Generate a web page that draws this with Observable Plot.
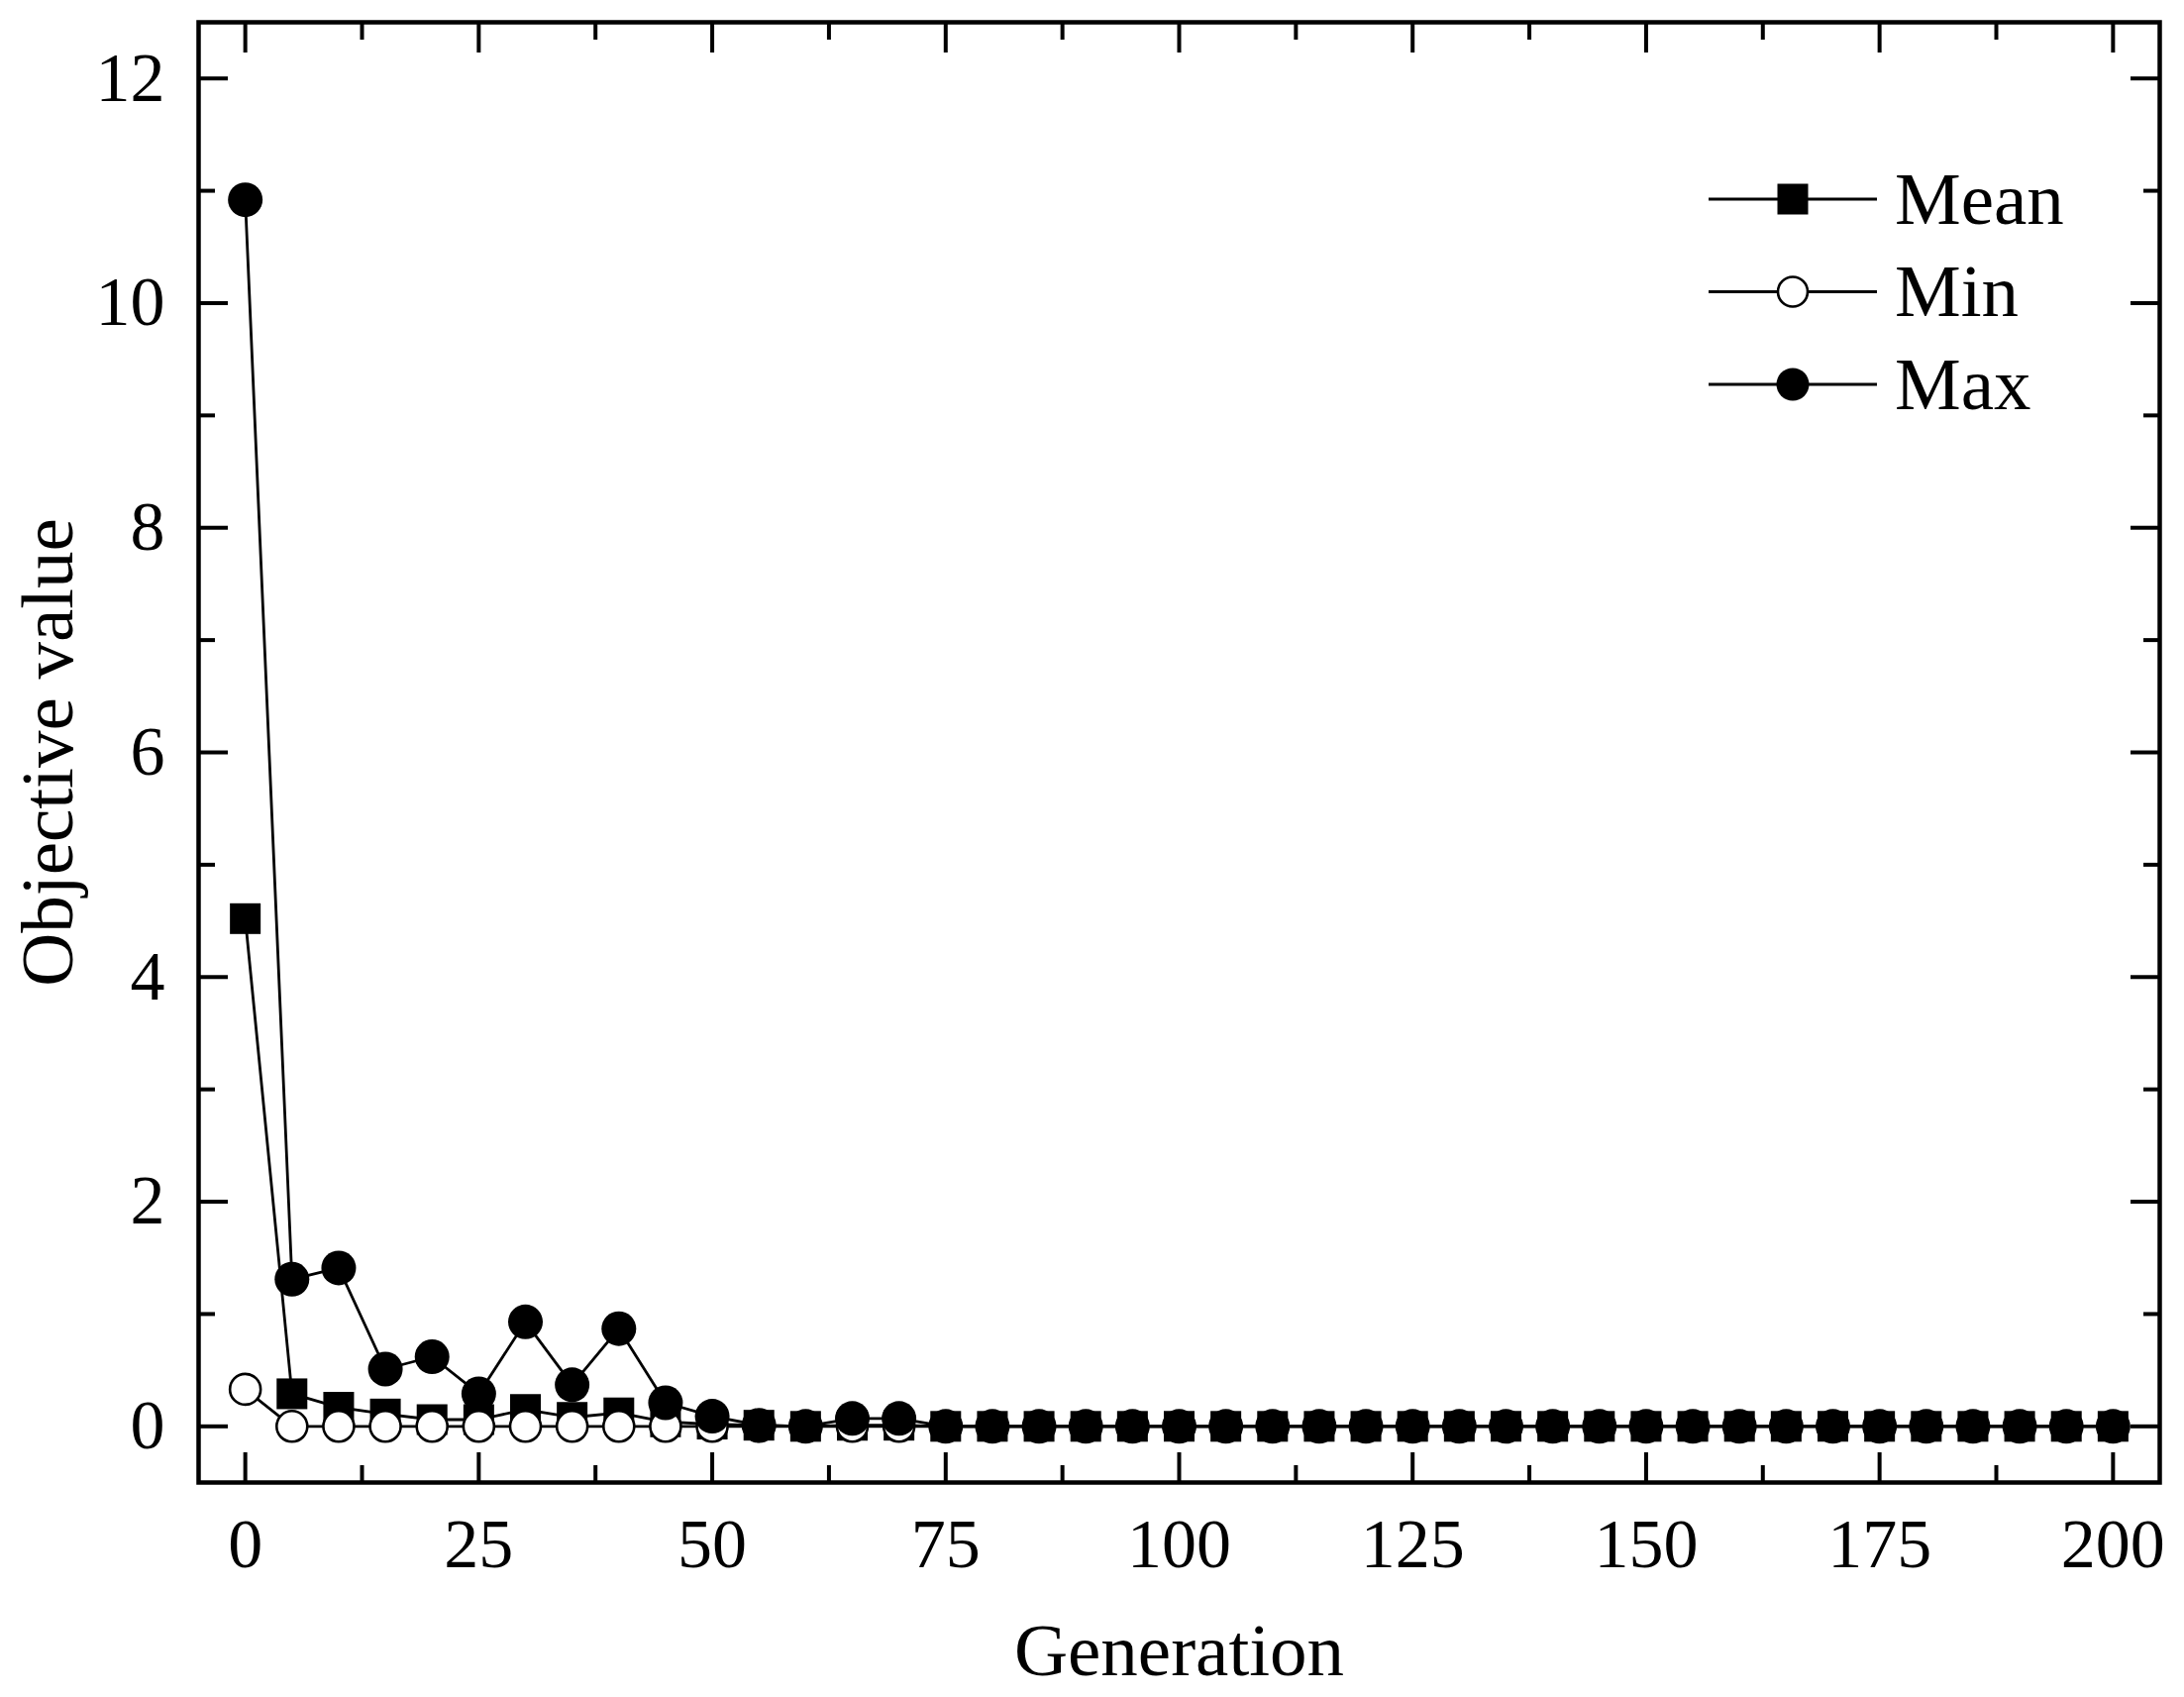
<!DOCTYPE html>
<html>
<head>
<meta charset="utf-8">
<script src="https://cdn.jsdelivr.net/npm/d3@7"></script>
<script src="https://cdn.jsdelivr.net/npm/@observablehq/plot@0.6"></script>
<style>
  html, body { margin: 0; padding: 0; background: #fff; }
  #chart { position: relative; width: 2205px; height: 1713px; }
</style>
</head>
<body>
<div id="chart"></div>
<script>
// ---- data ----
const generations = [0, 5, 10, 15, 20, 25, 30, 35, 40, 45, 50, 55, 60, 65, 70, 75, 80, 85, 90, 95,
  100, 105, 110, 115, 120, 125, 130, 135, 140, 145, 150, 155, 160, 165, 170, 175, 180, 185, 190, 195, 200];
const meanValues = [4.52, 0.29, 0.17, 0.11, 0.06, 0.06, 0.15, 0.08, 0.12, 0.04, 0.02, 0.01, 0.0, 0.01, 0.01,
  0, 0, 0, 0, 0, 0, 0, 0, 0, 0, 0, 0, 0, 0, 0, 0, 0, 0, 0, 0, 0, 0, 0, 0, 0, 0];
const minValues = [0.33, 0.0, 0.0, 0.0, 0.0, 0.0, 0.0, 0.0, 0.0, 0.0, 0.0, 0.0, 0.0, 0.0, 0.0,
  0, 0, 0, 0, 0, 0, 0, 0, 0, 0, 0, 0, 0, 0, 0, 0, 0, 0, 0, 0, 0, 0, 0, 0, 0, 0];
const maxValues = [10.92, 1.31, 1.41, 0.51, 0.62, 0.29, 0.93, 0.37, 0.87, 0.21, 0.09, 0.01, 0.0, 0.07, 0.07,
  0, 0, 0, 0, 0, 0, 0, 0, 0, 0, 0, 0, 0, 0, 0, 0, 0, 0, 0, 0, 0, 0, 0, 0, 0, 0];
const seriesNames = ["Mean", "Min", "Max"];
const xMajorTicks = [0, 25, 50, 75, 100, 125, 150, 175, 200];
const xMinorTicks = [12.5, 37.5, 62.5, 87.5, 112.5, 137.5, 162.5, 187.5];
const yMajorTicks = [0, 2, 4, 6, 8, 10, 12];
const yMinorTicks = [1, 3, 5, 7, 9, 11];
const xTitle = "Generation";
const yTitle = "Objective value";

// ---- build tables ----
const toRows = (vals) => generations.map((g, i) => ({g, v: vals[i]}));
const meanData = toRows(meanValues);
const minData = toRows(minValues);
const maxData = toRows(maxValues);

const font = "'Liberation Serif', 'Times New Roman', Times, serif";
const lw = 2.8;
const fmt = d => String(d);

const tickAxes = (anchorX, anchorY) => [
  Plot.axisX(xMajorTicks, {anchor: anchorX, tickSize: -30, strokeWidth: 4, fill: "none", label: null}),
  Plot.axisX(xMinorTicks, {anchor: anchorX, tickSize: -17, strokeWidth: 4, fill: "none", label: null}),
  Plot.axisY(yMajorTicks, {anchor: anchorY, tickSize: -30, strokeWidth: 4, fill: "none", label: null}),
  Plot.axisY(yMinorTicks, {anchor: anchorY, tickSize: -17, strokeWidth: 4, fill: "none", label: null})
];

const plot = Plot.plot({
  width: 2205,
  height: 1713,
  marginLeft: 200,
  marginRight: 25,
  marginTop: 22,
  marginBottom: 217,
  style: {fontFamily: font, background: "white", color: "black", overflow: "visible"},
  x: {domain: [-5, 205]},
  y: {domain: [-0.5, 12.5]},
  marks: [
    Plot.line(meanData, {x: "g", y: "v", stroke: "black", strokeWidth: lw}),
    Plot.dot(meanData, {x: "g", y: "v", symbol: "square", r: 17.5, fill: "black", stroke: "none"}),
    Plot.line(minData, {x: "g", y: "v", stroke: "black", strokeWidth: lw}),
    Plot.dot(minData, {x: "g", y: "v", symbol: "circle", r: 15.5, fill: "white", stroke: "black", strokeWidth: 2.6}),
    Plot.line(maxData, {x: "g", y: "v", stroke: "black", strokeWidth: lw}),
    Plot.dot(maxData, {x: "g", y: "v", symbol: "circle", r: 17.5, fill: "black", stroke: "none"}),
    ...tickAxes("bottom", "left"),
    ...tickAxes("top", "right"),
    Plot.axisX(xMajorTicks, {anchor: "bottom", tickSize: 0, tickPadding: 36, fontSize: 70, tickFormat: fmt, label: null}),
    Plot.axisY(yMajorTicks, {anchor: "left", tickSize: 0, tickPadding: 34, fontSize: 70, tickFormat: fmt, label: null}),
    Plot.frame({stroke: "black", strokeWidth: 4.5}),
    Plot.text([xTitle], {text: d => d, frameAnchor: "bottom", dy: 170, textAnchor: "middle", lineAnchor: "middle", fontSize: 75}),
    Plot.text([yTitle], {text: d => d, frameAnchor: "left", dx: -152, rotate: -90, textAnchor: "middle", lineAnchor: "middle", fontSize: 75})
  ]
});

document.getElementById("chart").appendChild(plot);

// ---- legend (top right, inside the frame) ----
const svg = d3.select(plot.tagName.toLowerCase() === "svg" ? plot : plot.querySelector("svg"));
const legend = svg.append("g").attr("class", "legend");
const legX1 = 1725, legX2 = 1895, legMark = 1810, legText = 1913, legY0 = 201, legDy = 93.5;
seriesNames.forEach((name, i) => {
  const y = legY0 + i * legDy;
  const g = legend.append("g");
  g.append("line").attr("x1", legX1).attr("x2", legX2).attr("y1", y).attr("y2", y)
    .attr("stroke", "black").attr("stroke-width", 2.8);
  if (name === "Mean") {
    g.append("rect").attr("x", legMark - 15.5).attr("y", y - 15.5).attr("width", 31).attr("height", 31)
      .attr("fill", "black");
  } else if (name === "Min") {
    g.append("circle").attr("cx", legMark).attr("cy", y).attr("r", 15)
      .attr("fill", "white").attr("stroke", "black").attr("stroke-width", 2.6);
  } else {
    g.append("circle").attr("cx", legMark).attr("cy", y).attr("r", 16.5).attr("fill", "black");
  }
  g.append("text").attr("x", legText).attr("y", y).attr("dy", "0.33em")
    .attr("text-anchor", "start")
    .attr("font-family", font).attr("font-size", 75).attr("fill", "black").text(name);
});
</script>
</body>
</html>
